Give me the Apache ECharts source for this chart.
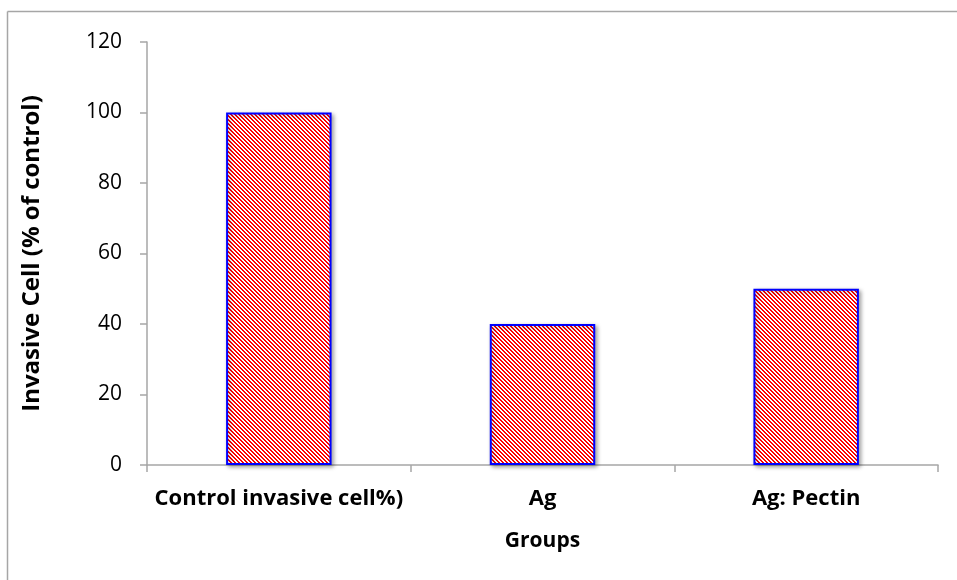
<!DOCTYPE html>
<html>
<head>
<meta charset="utf-8">
<script src="https://cdn.jsdelivr.net/npm/echarts@6/dist/echarts.min.js"></script>
<style>
  html, body { margin: 0; padding: 0; background: #fff; }
  #chart { width: 957px; height: 580px; }
</style>
</head>
<body>
<div id="chart"></div>
<script>
// Invasive cell counts relative to control
const categories = ['Control invasive cell%)', 'Ag', 'Ag: Pectin'];
const invasiveValues = [100, 40, 50];
const yTicks = [0, 20, 40, 60, 80, 100, 120];

// Red/white diagonal hatch tile
function hatchTile() {
  const c = document.createElement('canvas');
  c.width = 4; c.height = 4;
  const ctx = c.getContext('2d');
  ctx.fillStyle = '#ffffff';
  ctx.fillRect(0, 0, 4, 4);
  ctx.fillStyle = '#ff0000';
  for (let y = 0; y < 4; y++) {
    for (let x = 0; x < 4; x++) {
      const d = ((x - y) % 4 + 4) % 4;
      if (d === 0 || d === 1) ctx.fillRect(x, y, 1, 1);
    }
  }
  return c;
}

const FONT = '"Open Sans", sans-serif';
const chart = echarts.init(document.getElementById('chart'), null, { renderer: 'canvas' });

chart.setOption({
  animation: false,
  backgroundColor: '#ffffff',
  graphic: [
    { type: 'line', shape: { x1: 7.5, y1: 11.5, x2: 957, y2: 11.5 },
      style: { stroke: '#a6a6a6', lineWidth: 1.5 } },
    { type: 'line', shape: { x1: 7.5, y1: 11.5, x2: 7.5, y2: 580 },
      style: { stroke: '#a6a6a6', lineWidth: 1.5 } }
  ],
  grid: { left: 147, right: 19, top: 42, bottom: 115, containLabel: false },
  xAxis: {
    type: 'category',
    data: categories,
    name: 'Groups',
    nameLocation: 'middle',
    nameGap: 66,
    nameTextStyle: { fontFamily: FONT, fontSize: 21, fontWeight: 'bold', color: '#000' },
    axisLine: { lineStyle: { color: '#a6a6a6', width: 1.5 } },
    axisTick: { show: true, alignWithLabel: false, length: 7, lineStyle: { color: '#a6a6a6', width: 1.5 } },
    axisLabel: { interval: 0, fontFamily: FONT, fontSize: 22, fontWeight: 'bold', color: '#000', margin: 23 }
  },
  yAxis: {
    type: 'value',
    min: yTicks[0],
    max: yTicks[yTicks.length - 1],
    interval: 20,
    name: 'Invasive Cell (% of control)',
    nameLocation: 'middle',
    nameGap: 103,
    nameTextStyle: { fontFamily: FONT, fontSize: 24, fontWeight: 'bold', color: '#000' },
    axisLine: { show: true, lineStyle: { color: '#a6a6a6', width: 1.5 } },
    axisTick: { show: true, length: 7, lineStyle: { color: '#a6a6a6', width: 1.5 } },
    splitLine: { show: false },
    axisLabel: { fontFamily: FONT, fontSize: 21, color: '#000', margin: 25 }
  },
  series: [{
    type: 'bar',
    data: invasiveValues,
    barWidth: '40%',
    itemStyle: {
      color: { image: hatchTile(), repeat: 'repeat' },
      borderColor: '#0000ff',
      borderWidth: 2,
      shadowColor: 'rgba(0,0,0,0.35)',
      shadowBlur: 4,
      shadowOffsetX: 2,
      shadowOffsetY: 2
    }
  }]
});
</script>
</body>
</html>
